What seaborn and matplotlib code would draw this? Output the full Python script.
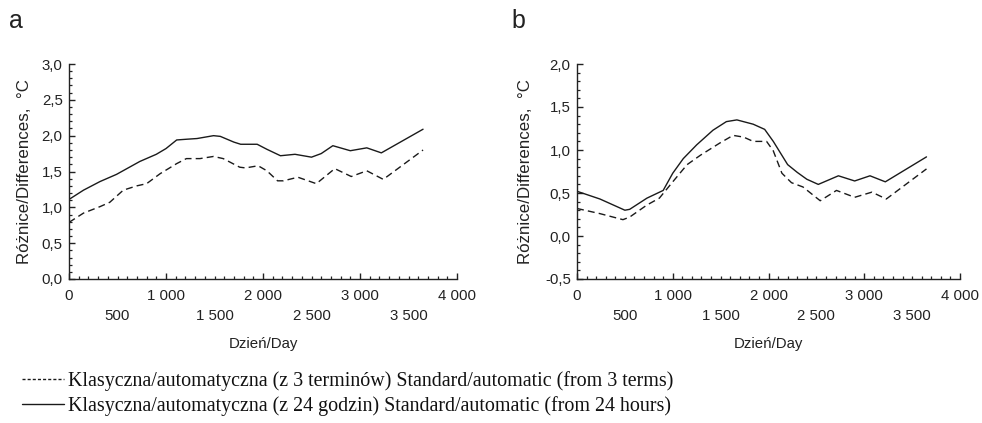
import numpy as np
import pandas as pd
import matplotlib
matplotlib.use("Agg")
import matplotlib.pyplot as plt
from matplotlib.ticker import MultipleLocator, FixedLocator, FixedFormatter
from matplotlib.lines import Line2D
import seaborn as sns

# ---------------- data ----------------
# Panel a
a_solid_day = [0, 150, 320, 490, 730, 900, 1000, 1110, 1210, 1320, 1490, 1560, 1700, 1770,
               1940, 2040, 2180, 2330, 2500, 2600, 2720, 2900, 3070, 3220, 3650]
a_solid_val = [1.11, 1.24, 1.36, 1.46, 1.64, 1.74, 1.82, 1.94, 1.95, 1.96, 2.00, 1.99, 1.91, 1.88,
               1.88, 1.81, 1.72, 1.74, 1.70, 1.75, 1.86, 1.79, 1.83, 1.76, 2.09]
a_dash_day = [0, 150, 320, 420, 560, 700, 800, 940, 1110, 1210, 1350, 1490, 1590, 1760, 1820,
              1950, 2040, 2150, 2210, 2360, 2550, 2740, 2910, 3070, 3240, 3650]
a_dash_val = [0.79, 0.92, 1.01, 1.07, 1.24, 1.30, 1.33, 1.47, 1.61, 1.68, 1.68, 1.71, 1.68, 1.56, 1.55,
              1.58, 1.51, 1.37, 1.37, 1.42, 1.33, 1.54, 1.43, 1.51, 1.39, 1.80]
# Panel b
b_solid_day = [0, 240, 500, 550, 730, 900, 1000, 1110, 1250, 1420, 1560, 1670, 1840, 1960,
               2050, 2200, 2300, 2400, 2520, 2730, 2900, 3060, 3220, 3650]
b_solid_val = [0.52, 0.43, 0.30, 0.31, 0.44, 0.53, 0.73, 0.90, 1.06, 1.23, 1.33, 1.35, 1.30, 1.24,
               1.10, 0.83, 0.74, 0.66, 0.60, 0.70, 0.64, 0.70, 0.63, 0.92]
b_dash_day = [0, 240, 480, 550, 730, 860, 1000, 1150, 1290, 1490, 1630, 1740, 1840, 1980,
              2050, 2140, 2240, 2360, 2540, 2710, 2900, 3080, 3230, 3650]
b_dash_val = [0.32, 0.26, 0.19, 0.22, 0.36, 0.44, 0.63, 0.83, 0.94, 1.08, 1.17, 1.15, 1.10, 1.10,
              0.99, 0.73, 0.62, 0.57, 0.41, 0.53, 0.45, 0.51, 0.43, 0.78]

x_major = [0, 1000, 2000, 3000, 4000]
x_major_labels = ["0", "1 000", "2 000", "3 000", "4 000"]
x_second = [500, 1500, 2500, 3500]
x_second_labels = ["500", "1 500", "2 500", "3 500"]
a_yticks = [0.0, 0.5, 1.0, 1.5, 2.0, 2.5, 3.0]
a_ylabels = ["0,0", "0,5", "1,0", "1,5", "2,0", "2,5", "3,0"]
b_yticks = [-0.5, 0.0, 0.5, 1.0, 1.5, 2.0]
b_ylabels = ["-0,5", "0,0", "0,5", "1,0", "1,5", "2,0"]

label_dash = "Klasyczna/automatyczna (z 3 terminów) Standard/automatic (from 3 terms)"
label_solid = "Klasyczna/automatyczna (z 24 godzin) Standard/automatic (from 24 hours)"
ylab = "Różnice/Differences,  °C"
xlab = "Dzień/Day"

# ---------------- style ----------------
sns.set_style("ticks")
plt.rcParams["font.family"] = ["Liberation Sans", "DejaVu Sans"]
plt.rcParams["text.color"] = "#222222"
plt.rcParams["axes.labelcolor"] = "#222222"
plt.rcParams["xtick.color"] = "#222222"
plt.rcParams["ytick.color"] = "#222222"

W, H = 982, 423
fig = plt.figure(figsize=(W / 100, H / 100), dpi=100)

line_col = "#1a1a1a"
fs = 10.8


def make_axes(left, right, top, bottom):
    return fig.add_axes([left / W, 1 - bottom / H, (right - left) / W, (bottom - top) / H])


def style_axes(ax, yticks, ylabels, ylim, xlabel_y):
    ax.set_xlim(0, 4000)
    ax.set_ylim(*ylim)
    sns.despine(ax=ax)
    for sp in ["left", "bottom"]:
        ax.spines[sp].set_linewidth(1.0)
        ax.spines[sp].set_color("#222222")
    ax.xaxis.set_major_locator(FixedLocator(x_major))
    ax.xaxis.set_major_formatter(FixedFormatter(x_major_labels))
    ax.xaxis.set_minor_locator(MultipleLocator(100))
    ax.yaxis.set_major_locator(FixedLocator(yticks))
    ax.yaxis.set_major_formatter(FixedFormatter(ylabels))
    ax.yaxis.set_minor_locator(MultipleLocator(0.1))
    ax.tick_params(axis="both", which="major", direction="in", length=4, width=1.0, labelsize=fs)
    ax.tick_params(axis="both", which="minor", direction="in", length=2.5, width=0.9)
    ax.tick_params(axis="x", which="major", pad=7)
    ax.tick_params(axis="y", which="major", pad=4.5)
    sec = ax.secondary_xaxis("bottom")
    sec.set_xticks(x_second)
    sec.set_xticklabels(x_second_labels)
    sec.tick_params(length=0, pad=21.5, labelsize=fs)
    sec.spines["bottom"].set_visible(False)
    ax.set_xlabel(xlab, fontsize=fs)
    ax.xaxis.set_label_coords(0.5, xlabel_y)
    ax.set_ylabel(ylab, fontsize=12.2)
    ax.grid(False)


def draw(ax, sd, sv, dd, dv):
    sns.lineplot(x=sd, y=sv, ax=ax, color=line_col, linewidth=1.0, estimator=None, sort=False)
    sns.lineplot(x=dd, y=dv, ax=ax, color=line_col, linewidth=1.0, estimator=None, sort=False,
                 linestyle=(0, (5, 3)))


ax_a = make_axes(69, 457, 64, 279)
draw(ax_a, a_solid_day, a_solid_val, a_dash_day, a_dash_val)
style_axes(ax_a, a_yticks, a_ylabels, (0.0, 3.0), -0.27)
ax_a.yaxis.set_label_coords(-0.095, 0.5)

ax_b = make_axes(577, 960, 64, 279)
draw(ax_b, b_solid_day, b_solid_val, b_dash_day, b_dash_val)
style_axes(ax_b, b_yticks, b_ylabels, (-0.5, 2.0), -0.27)
ax_b.yaxis.set_label_coords(-0.115, 0.5)

fig.text(9 / W, 1 - 28 / H, "a", fontsize=18, va="baseline", ha="left")
fig.text(511 / W, 1 - 28 / H, "b", fontsize=18, va="baseline", ha="left")

handles = [
    Line2D([], [], color=line_col, linewidth=1.0, linestyle=(0, (2.2, 1.5))),
    Line2D([], [], color=line_col, linewidth=1.0, linestyle="-"),
]
leg = fig.legend(handles, [label_dash, label_solid], loc="upper left",
                 bbox_to_anchor=(22 / W, 1 - 371 / H), frameon=False,
                 prop={"family": "Liberation Serif", "size": 14.4},
                 handlelength=2.1, handletextpad=0.2, labelspacing=0.27, borderaxespad=0,
                 borderpad=0)
for t in leg.get_texts():
    t.set_color("#111111")

fig.savefig("out.png", dpi=100)
